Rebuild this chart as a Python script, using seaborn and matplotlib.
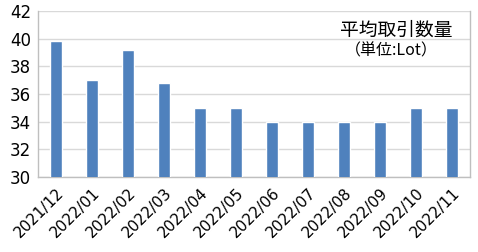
import matplotlib
matplotlib.use("Agg")
import matplotlib.pyplot as plt
import seaborn as sns
import pandas as pd

months = ["2021/12", "2022/01", "2022/02", "2022/03", "2022/04", "2022/05",
          "2022/06", "2022/07", "2022/08", "2022/09", "2022/10", "2022/11"]
volumes = [39.8, 37.0, 39.2, 36.8, 35.0, 35.0, 34.0, 34.0, 34.0, 34.0, 35.0, 35.0]
yticks = [30, 32, 34, 36, 38, 40, 42]
title = "平均取引数量"
subtitle = "（単位:Lot）"

sns.set_theme(style="white")
plt.rcParams['font.family'] = ['DejaVu Sans', 'Noto Sans CJK JP']

df = pd.DataFrame({"month": months, "volume": volumes})

fig = plt.figure(figsize=(4.78, 2.52), dpi=100)
ax = fig.add_axes([0.0795, 0.298, 0.904, 0.658])
sns.barplot(data=df, x="month", y="volume", color="#4f81bd", saturation=1,
            width=0.33, ax=ax, zorder=3)
ax.set_ylim(30, 42)
ax.set_yticks(yticks)
ax.set_yticklabels([str(v) for v in yticks], family="DejaVu Sans", fontsize=12)
ax.set_xlim(-0.5, len(months) - 0.5)
ax.grid(axis="y", color="#d9d9d9", linewidth=1, zorder=0)
ax.set_xlabel("")
ax.set_ylabel("")
for s in ["left", "bottom", "right"]:
    ax.spines[s].set_color("#bfbfbf")
    ax.spines[s].set_linewidth(1)
ax.spines["top"].set_visible(False)
ax.tick_params(axis="y", length=0, colors="black", pad=5)
ax.set_xticks(range(len(months)))
ax.set_xticklabels(months, rotation=45, ha="right", rotation_mode="anchor",
                   fontsize=11, color="black", family="DejaVu Sans")
ax.tick_params(axis="x", length=0, pad=6)
# category boundary ticks (Excel style)
ax.set_xticks([i - 0.5 for i in range(len(months) + 1)], minor=True)
ax.tick_params(axis="x", which="minor", length=4, color="#bfbfbf", width=1, direction="out")

fig.text(0.946, 0.88, title, ha="right", va="center", fontsize=13.5,
         family=['Noto Sans CJK JP'], color="black")
fig.text(0.915, 0.797, subtitle, ha="right", va="center", fontsize=11.5,
         family=['Noto Sans CJK JP'], color="black")

fig.savefig("out.png", dpi=100)
